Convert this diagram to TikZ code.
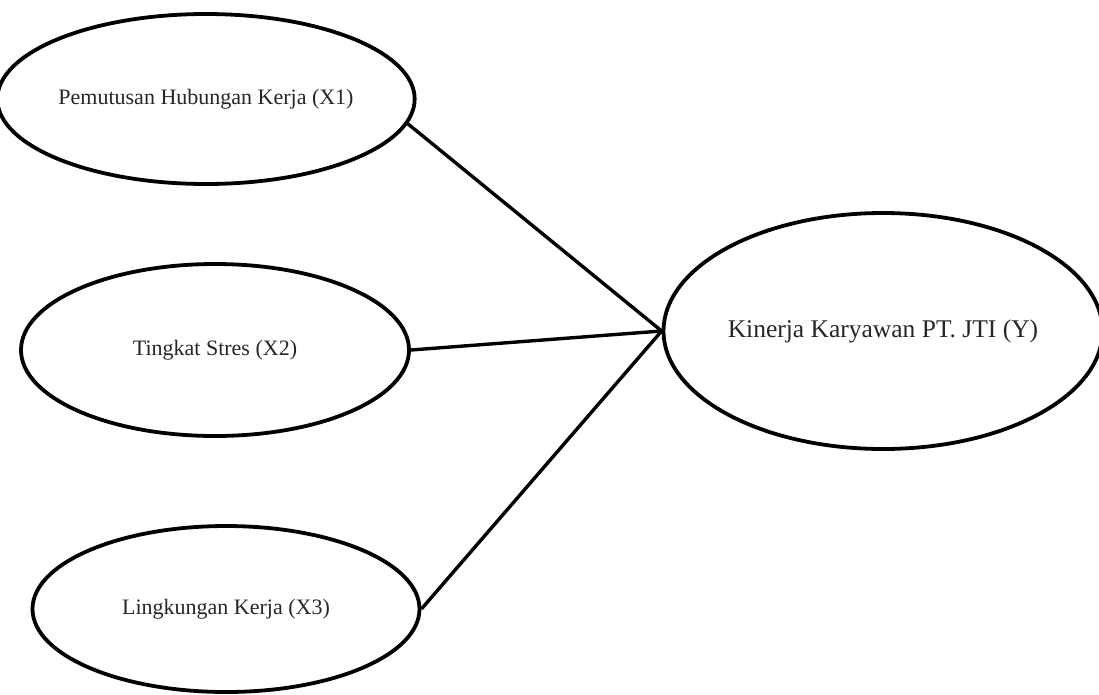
\documentclass[tikz,border=0pt]{standalone}
\usepackage{fontspec}
\setmainfont{Liberation Serif}
\usetikzlibrary{shapes.geometric}
\begin{document}
\begin{tikzpicture}[x=1pt,y=-1pt,
  ell/.style={draw=black, line width=3.8pt, ellipse, inner sep=0pt, text=black!85},
  conn/.style={draw=black, line width=3.4pt}]
\useasboundingbox (0,0) rectangle (1099,694);
\node[ell, minimum width=386pt, minimum height=170pt, font=\fontsize{22}{26}\selectfont] (x1) at (206,99) {Pemutusan Hubungan Kerja (X1)};
\node[ell, minimum width=388pt, minimum height=172pt, font=\fontsize{22}{26}\selectfont] (x2) at (215,350) {Tingkat Stres (X2)};
\node[ell, minimum width=387pt, minimum height=166pt, font=\fontsize{22}{26}\selectfont] (x3) at (226,609) {Lingkungan Kerja (X3)};
\node[ell, minimum width=428pt, minimum height=236pt, font=\fontsize{25.5}{29}\selectfont] (y) at (883,331) {Kinerja Karyawan PT. JTI (Y)};
\draw[conn] (x1.-7) -- (y.west);
\draw[conn] (x2.east) -- (y.west);
\draw[conn] (x3.east) -- (y.west);
\end{tikzpicture}
\end{document}
